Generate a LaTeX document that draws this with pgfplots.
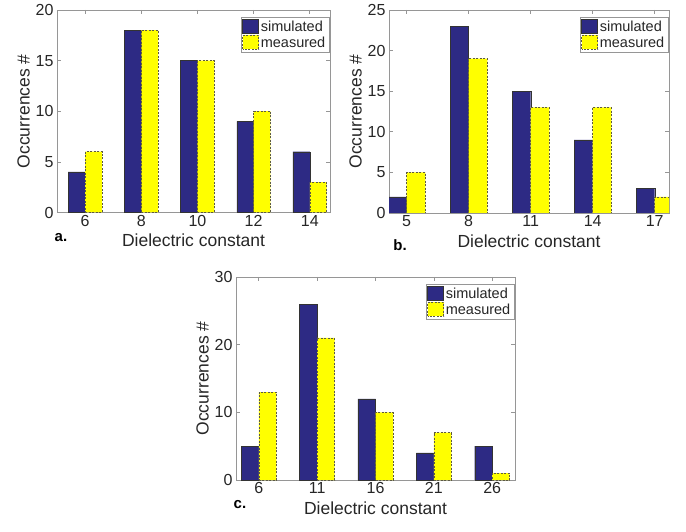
\documentclass[border=0pt]{standalone}
\usepackage{pgfplots}
\pgfplotsset{compat=1.18}
\usepackage{fontspec}
\setmainfont{Liberation Sans}
\definecolor{simblue}{RGB}{45,42,132}
\definecolor{measyel}{RGB}{255,255,0}
\definecolor{axgray}{RGB}{150,150,150}
\definecolor{txt}{RGB}{38,38,38}
\pgfplotsset{
  panel/.style={
    scale only axis, anchor=south west,
    axis line style={axgray, line width=0.8pt},
    tick style={axgray, line width=0.6pt},
    major tick length=4pt,
    tick align=inside,
    xtick={0,1,2,3,4},
    ymin=0,
    ticklabel style={font=\fontsize{16}{19}\selectfont, text=txt},
    /pgf/number format/assume math mode=true,
    xlabel={Dielectric constant},
    ylabel={Occurrences \#},
    label style={font=\fontsize{17.5}{20}\selectfont, text=txt},
    xlabel style={yshift=-1pt},
    ylabel style={yshift=-1pt},
    xticklabel style={yshift=1pt},
    legend style={at={(1,1)}, anchor=north east, xshift=-1pt, yshift=-7pt,
      draw=axgray, font=\fontsize{14.5}{17}\selectfont, text=txt,
      inner sep=1.5pt, row sep=0pt, cells={anchor=west}},
    legend image code/.code={\draw[#1] (0pt,-6pt) rectangle (16pt,8pt);},
  },
  sim/.style={ybar, bar width=0.3, bar shift=-0.15, fill=simblue, draw=black!80, line width=0.4pt},
  mea/.style={ybar, bar width=0.3, bar shift=0.15, fill=measyel, draw=black!55!yellow!60!black, line width=0.5pt, dash pattern=on 2pt off 1.5pt},
}
\begin{document}
\begin{tikzpicture}
\useasboundingbox (0pt,0pt) rectangle (686pt,531pt);
% panel a
\begin{axis}[panel, at={(57pt,318.5pt)}, width=273pt, height=202.5pt,
  xmin=-0.5, xmax=4.36, ymax=20, ytick={0,5,10,15,20},
  xticklabels={6,8,10,12,14}]
\addplot[sim] coordinates {(0,4) (1,18) (2,15) (3,9) (4,6)};
\addplot[mea] coordinates {(0,6) (1,18) (2,15) (3,10) (4,3)};
\legend{simulated,measured}
\end{axis}
% panel b
\begin{axis}[panel, at={(389pt,318pt)}, width=280pt, height=203pt,
  xmin=-0.285, xmax=4.23, ymax=25, ytick={0,5,10,15,20,25},
  xticklabels={5,8,11,14,17}]
\addplot[sim] coordinates {(0,2) (1,23) (2,15) (3,9) (4,3)};
\addplot[mea] coordinates {(0,5) (1,19) (2,13) (3,13) (4,2)};
\legend{simulated,measured}
\end{axis}
% panel c
\begin{axis}[panel, at={(236pt,51pt)}, width=279pt, height=203pt,
  xmin=-0.39, xmax=4.39, ymax=30, ytick={0,10,20,30},
  xticklabels={6,11,16,21,26}]
\addplot[sim] coordinates {(0,5) (1,26) (2,12) (3,4) (4,5)};
\addplot[mea] coordinates {(0,13) (1,21) (2,10) (3,7) (4,1)};
\legend{simulated,measured}
\end{axis}
\node[font=\fontsize{15}{18}\selectfont\bfseries, text=black] at (61pt,293pt) {a.};
\node[font=\fontsize{15}{18}\selectfont\bfseries, text=black] at (400pt,286pt) {b.};
\node[font=\fontsize{15}{18}\selectfont\bfseries, text=black] at (240pt,26pt) {c.};
\end{tikzpicture}
\end{document}
